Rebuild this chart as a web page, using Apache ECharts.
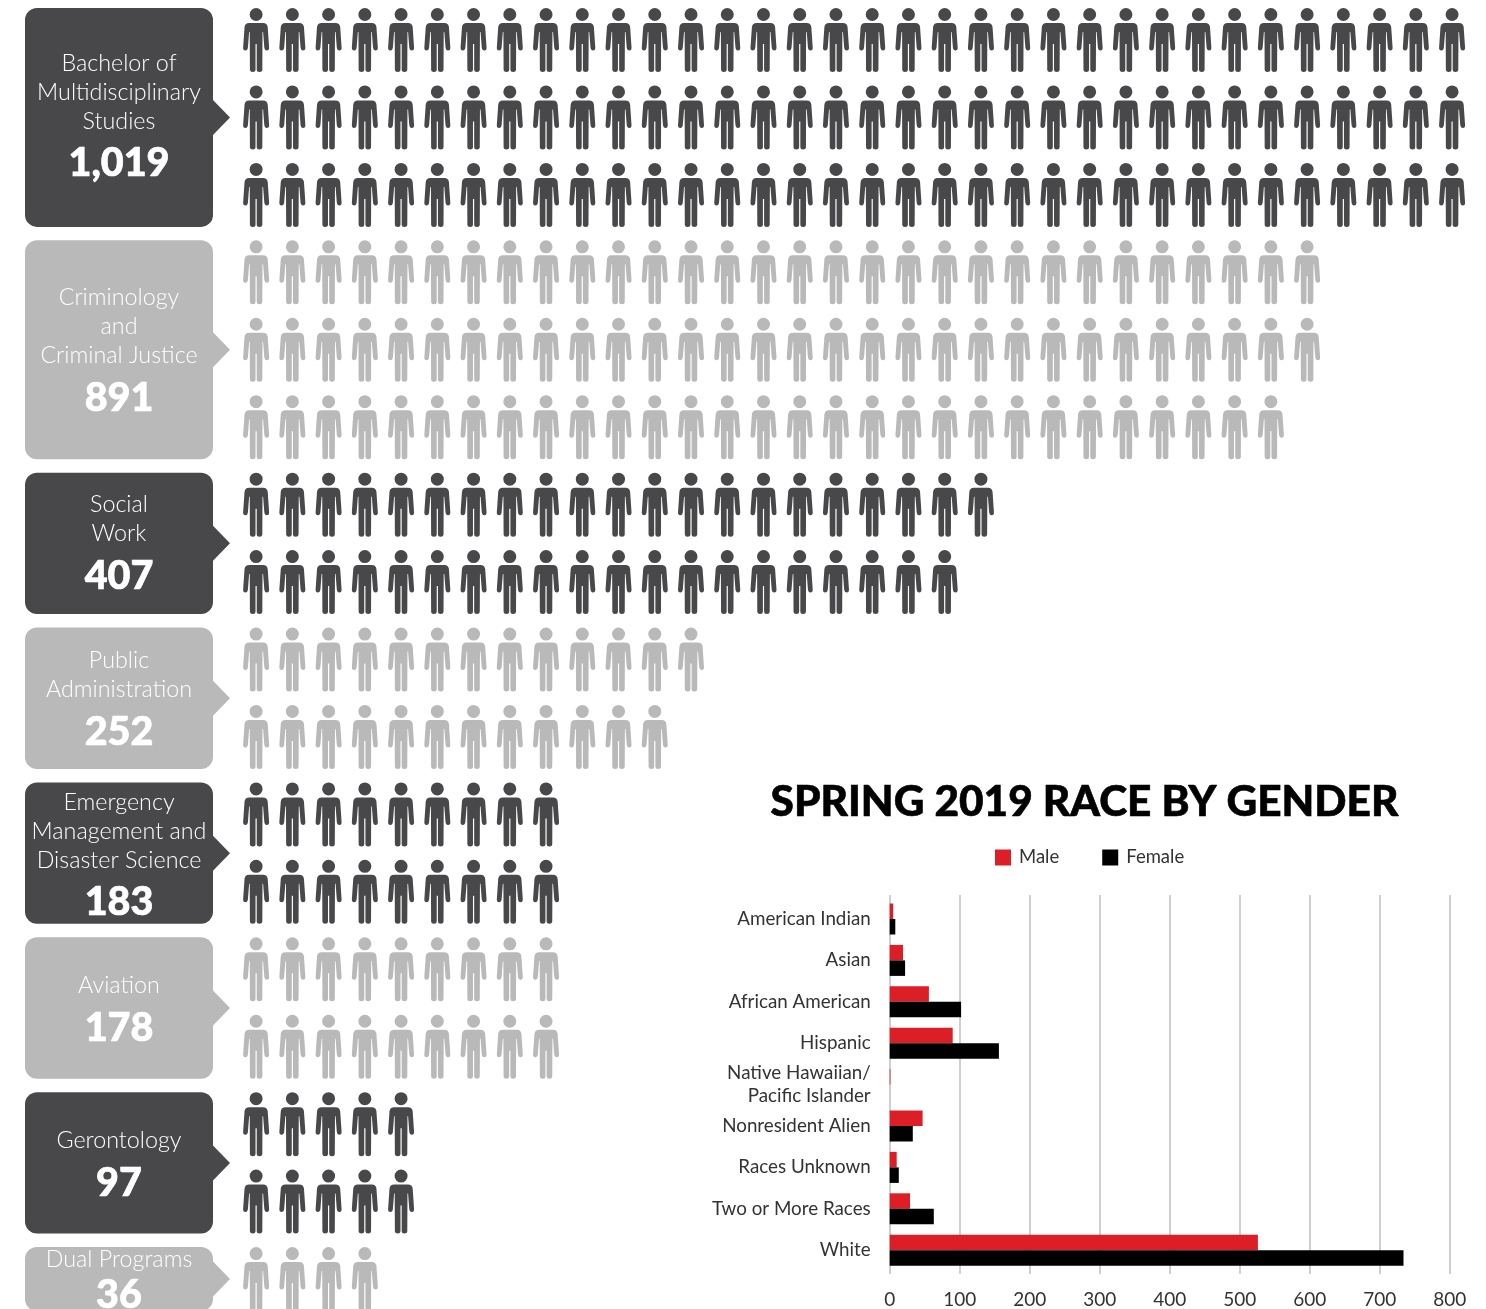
<!DOCTYPE html>
<html><head><meta charset="utf-8">
<style>html,body{margin:0;padding:0;background:#fff;overflow:hidden}#c{width:1486px;height:1309px}</style>
<script src="https://cdn.jsdelivr.net/npm/echarts@6/dist/echarts.min.js"></script>
</head><body><div id="c"></div>
<script>
// Degree programs: label lines, totals, icons per row (one icon is about 10 students)
const programLines = [
  ['Bachelor of','Multidisciplinary','Studies'],
  ['Criminology','and','Criminal Justice'],
  ['Social','Work'],
  ['Public','Administration'],
  ['Emergency','Management and','Disaster Science'],
  ['Aviation'],
  ['Gerontology'],
  ['Dual Programs']
];
const programTotals = ['1,019','891','407','252','183','178','97','36'];
const iconsPerRow = [[34,34,34],[30,30,29],[21,20],[13,12],[9,9],[9,9],[5,5],[4]];

// Race by gender
const raceCategories = ['American Indian','Asian','African American','Hispanic','Native Hawaiian/\nPacific Islander','Nonresident Alien','Races Unknown','Two or More Races','White'];
const maleValues =   [5,19,56,90,1,47,10,29,526];
const femaleValues = [8,22,102,156,0,33,13,63,734];
const raceTicks = [0,100,200,300,400,500,600,700,800];

const DARK='#48474a', LIGHT='#b9b9b9', RED='#dc1f26', INK='#333333';
const SANS='Lato, "Noto Sans", sans-serif';
const PERSON='path://M13 0a6.5 6.5 0 1 1 0 13a6.5 6.5 0 1 1 0-13ZM6 15H20Q24 15 24.6 19L26 39.5Q26.2 42.5 23.7 42.5Q21.6 42.5 21.2 39.5L20 24H19.4L19.2 62Q19 64 16.5 64Q13.6 64 13.6 61.5V36H12.4V61.5Q12.4 64 9.5 64Q7 64 6.8 62L6.6 24H6L4.8 39.5Q4.4 42.5 2.3 42.5Q-.2 42.5 0 39.5L1.4 19Q2 15 6 15Z';

const rowNames=[], rowData=[], boxData=[];
iconsPerRow.forEach((rows,p)=>{
  boxData.push([0,rowNames.length,rows.length]);
  rows.forEach(n=>{
    const name='r'+rowNames.length;
    rowNames.push(name);
    rowData.push({value:n,symbolRepeat:n,symbolBoundingData:n,symbolMargin:'1!',itemStyle:{color:p%2?LIGHT:DARK}});
  });
});
const firstLineOffset=[55,57,32,33,20,48,48,12];
const totalGap=[42.5,43,42.5,42.5,42,43,43,36];

function renderBox(params,api){
  const p=params.dataIndex;
  const first=boxData[p][1], count=boxData[p][2];
  const top=api.coord([0,first])[1]-32;
  const bottom=api.coord([0,first+count-1])[1]+32;
  const fill=p%2?LIGHT:DARK, mid=(top+bottom)/2, cx=119;
  const kids=[
    {type:'rect',shape:{x:25,y:top,width:188,height:bottom-top,r:12},style:{fill}},
    {type:'polygon',shape:{points:[[213,mid-17.5],[230,mid],[213,mid+17.5]]},style:{fill}}
  ];
  let y=top+firstLineOffset[p];
  const lines=programLines[p];
  lines.forEach((t,i)=>{
    kids.push({type:'text',style:{text:t,x:cx,y:y+i*29,align:'center',verticalAlign:'middle',fill:'#fff',font:'300 23.3px '+SANS}});
  });
  kids.push({type:'text',style:{text:programTotals[p],x:cx,y:y+(lines.length-1)*29+totalGap[p],align:'center',verticalAlign:'middle',fill:'#fff',stroke:'#fff',lineWidth:0.7,font:'900 39.5px '+SANS}});
  return {type:'group',children:kids};
}

const chart=echarts.init(document.getElementById('c'),null,{renderer:'canvas'});
chart.setOption({
  animation:false,
  backgroundColor:'#fff',
  title:{text:'SPRING 2019 RACE BY GENDER',left:1079.5,top:776,textAlign:'center',
    textStyle:{fontFamily:SANS,fontWeight:900,fontSize:42.4,color:'#000',textBorderColor:'#000',textBorderWidth:0.6}},
  legend:{data:['Male','Female'],left:990,top:843,itemWidth:16,itemHeight:16,itemGap:43,icon:'rect',
    textStyle:{fontFamily:SANS,fontSize:18.5,color:INK,padding:[0,0,0,3]}},
  grid:[
    {left:238,top:1.28,width:1232.2,height:1316.5,outerBoundsMode:'none'},
    {left:889.7,top:895,width:560,height:379,outerBoundsMode:'none'},
    {left:889.7,top:898.3,width:560,height:372.6,outerBoundsMode:'none'}
  ],
  xAxis:[
    {gridIndex:0,type:'value',min:0,max:34,show:false},
    {gridIndex:1,type:'value',min:0,max:800,interval:100,
      axisLine:{show:false},axisTick:{show:false},
      splitLine:{show:true,lineStyle:{color:'#bfbfbf',width:1.5}},
      axisLabel:{color:INK,fontFamily:SANS,fontSize:19,margin:16}},
    {gridIndex:2,type:'value',min:0,max:800,show:false}
  ],
  yAxis:[
    {gridIndex:0,type:'category',data:rowNames,inverse:true,show:false},
    {gridIndex:1,type:'category',data:[''],show:false},
    {gridIndex:2,type:'category',data:raceCategories,inverse:true,
      axisLine:{show:false},axisTick:{show:false},
      axisLabel:{color:INK,fontFamily:SANS,fontSize:18.8,margin:19,lineHeight:23,align:'right'}}
  ],
  series:[
    {type:'custom',xAxisIndex:0,yAxisIndex:0,data:boxData,renderItem:renderBox,clip:false,silent:true,
      encode:{x:0,y:1}},
    {type:'pictorialBar',xAxisIndex:0,yAxisIndex:0,data:rowData,symbol:PERSON,
      symbolSize:[26,64],symbolPosition:'start',barCategoryGap:'10%',silent:true},
    {name:'Male',type:'bar',xAxisIndex:2,yAxisIndex:2,data:maleValues,barWidth:15.5,barGap:0,
      itemStyle:{color:RED},z:3},
    {name:'Female',type:'bar',xAxisIndex:2,yAxisIndex:2,data:femaleValues,barWidth:15.5,barGap:0,
      itemStyle:{color:'#000'},z:3}
  ]
});
</script></body></html>
